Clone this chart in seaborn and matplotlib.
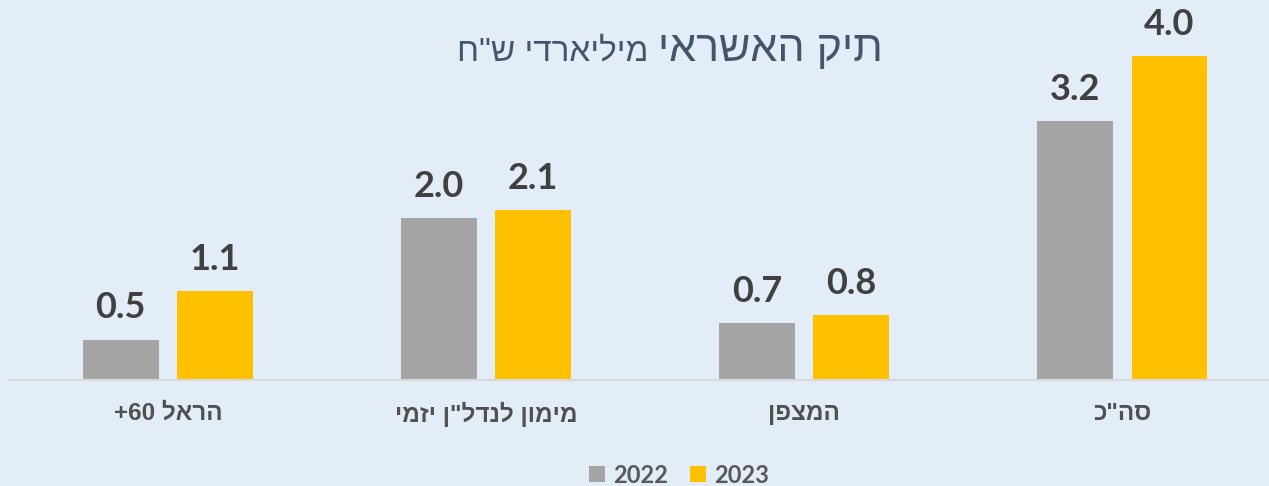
import re
import pandas as pd
import matplotlib.pyplot as plt
import seaborn as sns
from matplotlib.patches import Patch


def rtl(s):
    # matplotlib has no bidi support: flip the string, keep digit runs readable
    out = s[::-1]
    return re.sub(r'\d+', lambda m: m.group(0)[::-1], out)


categories = ['הראל 60+', 'מימון לנדל"ן יזמי', 'המצפן', 'סה"כ']
years = ['2022', '2023']
values_2022 = [0.5, 2.0, 0.7, 3.2]
values_2023 = [1.1, 2.1, 0.8, 4.0]
title_main = 'תיק האשראי'
title_sub = 'מיליארדי ש"ח'
colors = ['#A5A5A5', '#FFC000']

df = pd.DataFrame({
    'category': categories * 2,
    'year': [years[0]] * len(categories) + [years[1]] * len(categories),
    'value': values_2022 + values_2023,
})

bg = '#E3EDF8'
heb = ['Liberation Sans', 'DejaVu Sans']
sns.set_theme(style='white')
plt.rcParams['font.family'] = heb

W, H = 1269, 486
fig = plt.figure(figsize=(W / 100, H / 100), dpi=100, facecolor=bg)
ax = fig.add_axes([9 / W, 106 / H, 1260 / W, 370 / H])
ax.set_facecolor(bg)

sns.barplot(data=df, x='category', y='value', hue='year', order=categories,
            hue_order=years, palette=colors, width=0.594, gap=0.2,
            saturation=1, legend=False, linewidth=0, ax=ax)

ax.set_xlim(-0.5, 3.462)
ax.set_ylim(0, 370 / 81)

for c in ax.containers:
    ax.bar_label(c, fmt='%.1f', padding=11, fontsize=26, fontweight='bold',
                 color='#404040', family=['Lato', 'DejaVu Sans'])

ax.set_xticks(range(len(categories)))
ax.set_xticklabels([rtl(c) for c in categories], fontsize=17.5,
                   fontweight='bold', color='#505050')
ax.tick_params(axis='x', length=0, pad=16)
ax.set_yticks([])
ax.set_xlabel('')
ax.set_ylabel('')
for side in ['top', 'left', 'right']:
    ax.spines[side].set_visible(False)
ax.spines['bottom'].set_color('#D9D9D9')
ax.spines['bottom'].set_linewidth(1.5)

# title: larger main part on the right, unit on its left
t1 = fig.text(883 / W, 1 - 61 / H, rtl(title_main), fontsize=31,
              color='#44546A', ha='right', va='baseline')
fig.canvas.draw()
bb = t1.get_window_extent()
fig.text((bb.x0 - 10) / W, 1 - 61 / H, rtl(title_sub), fontsize=24,
         color='#44546A', ha='right', va='baseline')

handles = [Patch(facecolor=c, edgecolor='none') for c in colors]
fig.legend(handles, years, loc='center', bbox_to_anchor=(679 / W, 11 / H),
           ncol=2, frameon=False,
           prop=dict(family=['Lato', 'DejaVu Sans'], weight='bold', size=17),
           labelcolor='#595959', handlelength=0.68, handleheight=0.68,
           handletextpad=0.34, columnspacing=0.93)

fig.savefig('out.png', dpi=100, facecolor=bg)
